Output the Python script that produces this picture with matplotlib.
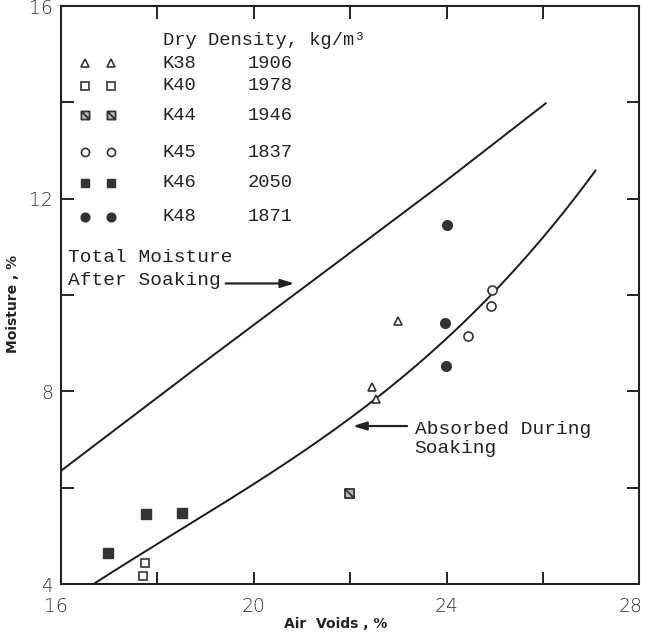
import matplotlib
matplotlib.use("Agg")
import matplotlib.pyplot as plt
import matplotlib.transforms as mtransforms
from matplotlib.path import Path
import numpy as np

# ---- data ----
k38_x = [23.0, 22.46, 22.53]
k38_y = [9.46, 8.08, 7.84]
k40_x = [17.75, 17.71]
k40_y = [4.44, 4.17]
k44_x = [21.98]
k44_y = [5.88]
k45_x = [24.94, 24.92, 24.45]
k45_y = [10.11, 9.77, 9.15]
k46_x = [16.98, 17.76, 18.52]
k46_y = [4.64, 5.45, 5.47]
k48_x = [24.0, 23.97, 23.99]
k48_y = [11.45, 9.41, 8.53]

total_x = [16.0, 18.88, 21.79, 24.0, 26.06]
total_y = [6.35, 8.54, 10.72, 12.38, 13.98]
absorbed_x = [16.64, 17.64, 19.71, 20.96, 23.03, 24.69, 25.25, 27.09]
absorbed_y = [4.0, 4.57, 5.89, 6.74, 8.23, 9.79, 10.31, 12.59]

legend_names = ["K38", "K40", "K44", "K45", "K46", "K48"]
legend_density = ["1906", "1978", "1946", "1837", "2050", "1871"]

x_ticks = [16, 18, 20, 22, 24, 26, 28]
x_labels = ["16", "", "20", "", "24", "", "28"]
y_ticks = [4, 6, 8, 10, 12, 14, 16]
y_labels = ["4", "", "8", "", "12", "", "16"]

# ---- style ----
mono = "Liberation Mono"
mk = "#333333"
hatch_sq = Path([(-1, -1), (1, -1), (1, 1), (-1, 1), (-1, -1), (-1, 1), (1, -1)],
                [Path.MOVETO, Path.LINETO, Path.LINETO, Path.LINETO, Path.CLOSEPOLY,
                 Path.MOVETO, Path.LINETO])

styles = [
    dict(marker="^", mfc="white", mec=mk, ms=6, mew=1.2),
    dict(marker="s", mfc="white", mec=mk, ms=6, mew=1.2),
    dict(marker=hatch_sq, mfc="#bbbbbb", mec=mk, ms=6.5, mew=1.3),
    dict(marker="o", mfc="white", mec=mk, ms=6.5, mew=1.2),
    dict(marker="s", mfc=mk, mec=mk, ms=7, mew=1.0),
    dict(marker="o", mfc=mk, mec=mk, ms=7, mew=1.0),
]
series = [(k38_x, k38_y), (k40_x, k40_y), (k44_x, k44_y),
          (k45_x, k45_y), (k46_x, k46_y), (k48_x, k48_y)]

fig = plt.figure(figsize=(6.5, 6.33), dpi=100)
ax = fig.add_axes([0.0938, 0.0774, 0.8897, 0.9131])

ax.plot(total_x, total_y, color="#1a1a1a", lw=1.4)
# smooth drawing of the read absorbed-curve points
coef = np.polyfit(absorbed_x, absorbed_y, 3)
xs_s = np.linspace(min(absorbed_x), max(absorbed_x), 200)
ax.plot(xs_s, np.polyval(coef, xs_s), color="#1a1a1a", lw=1.4)

for (xs, ys), st in zip(series, styles):
    ax.plot(xs, ys, ls="none", **st)

# legend (hand-built)
row_y = [0.901, 0.862, 0.811, 0.747, 0.694, 0.635]
ax.text(0.176, 0.941, "Dry Density, kg/m³", transform=ax.transAxes,
        family=mono, fontsize=13.5, va="center", ha="left", color="#222222")
for ry, st, name, dens in zip(row_y, styles, legend_names, legend_density):
    ax.plot([0.0415, 0.0865], [ry, ry], ls="none", transform=ax.transAxes,
            **{**st, "ms": st["ms"] * 0.9})
    ax.text(0.176, ry, name, transform=ax.transAxes, family=mono,
            fontsize=13.5, va="center", ha="left", color="#222222")
    ax.text(0.323, ry, dens, transform=ax.transAxes, family=mono,
            fontsize=13.5, va="center", ha="left", color="#222222")

# annotations
ax.text(16.15, 10.54, "Total Moisture\nAfter Soaking", family=mono, fontsize=14,
        va="center", ha="left", linespacing=1.4, color="#222222")
ax.annotate("", xy=(20.90, 10.24), xytext=(19.36, 10.24),
            arrowprops=dict(arrowstyle="-|>,head_length=0.8,head_width=0.25",
                            color="#222222", lw=1.6))
ax.text(23.34, 7.02, "Absorbed During\nSoaking", family=mono, fontsize=14,
        va="center", ha="left", linespacing=1.15, color="#222222")
ax.annotate("", xy=(22.0, 7.28), xytext=(23.24, 7.28),
            arrowprops=dict(arrowstyle="-|>,head_length=0.8,head_width=0.25",
                            color="#222222", lw=1.6))

ax.set_xlim(16, 28)
ax.set_ylim(4, 16)
ax.set_xticks(x_ticks)
ax.set_xticklabels(x_labels)
ax.set_yticks(y_ticks)
ax.set_yticklabels(y_labels)
ax.tick_params(direction="in", length=9, width=1.4, top=True, right=True,
               colors="#222222")
ax.tick_params(axis="x", pad=9)
ax.tick_params(axis="y", pad=6)
for lab in ax.get_xticklabels() + ax.get_yticklabels():
    lab.set_family("DejaVu Sans")
    lab.set_fontsize(13.5)
    lab.set_color("#333333")
    lab.set_fontweight("light")
xl = ax.get_xticklabels()
xl[-1].set_transform(xl[-1].get_transform() +
                     mtransforms.ScaledTranslation(-9 / 100, 0, fig.dpi_scale_trans))
xl[0].set_transform(xl[0].get_transform() +
                    mtransforms.ScaledTranslation(-5 / 100, 0, fig.dpi_scale_trans))
for sp in ax.spines.values():
    sp.set_linewidth(1.5)
    sp.set_color("#222222")

ax.set_xlabel("Air  Voids , %", fontsize=10, fontweight="bold",
              family="DejaVu Sans", color="#222222")
ax.xaxis.set_label_coords(0.475, -0.057)
ax.set_ylabel("Moisture , %", fontsize=10, fontweight="bold",
              family="DejaVu Sans", color="#222222")
ax.yaxis.set_label_coords(-0.07, 0.485)

fig.savefig("out.png", dpi=100)
